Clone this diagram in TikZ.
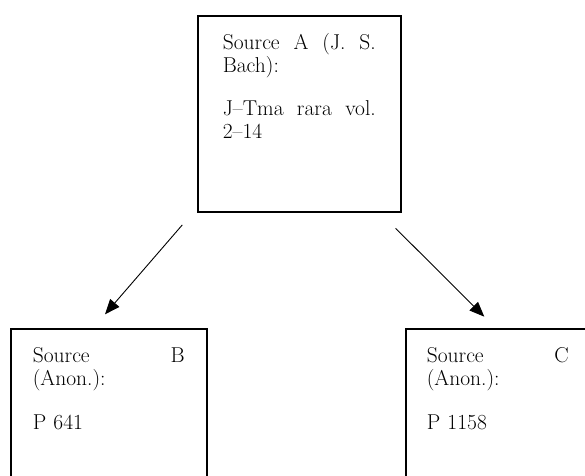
\documentclass[tikz,border=0pt]{standalone}
\usepackage{tikz}
\usetikzlibrary{arrows.meta,positioning,calc}

\begin{document}
\begin{tikzpicture}[
    x=1bp, y=-1bp,
    srcbox/.style={rectangle, draw=black, line width=1.6bp, anchor=north west, align=left, inner ysep=19bp, text height=14.5bp, text depth=143.5bp, font=\fontsize{21.5bp}{23.4bp}\selectfont},
    arrow/.style={-{Triangle[length=15bp,width=12bp]}, line width=0.9bp, black}
]
    \useasboundingbox (0,0) rectangle (585,476);
    \clip (0,0) rectangle (585,476);

    % Quelle oben
    \node[srcbox, text width=153bp, inner xsep=25bp] (srcA) at (197,15) {Source\hfill A\hfill (J.\hfill S.\\Bach):\\[19.2bp]J--Tma\hfill rara\hfill vol.\\2--14};

    % Abschriften unten
    \node[srcbox, text width=152bp, inner xsep=22bp] (srcB) at (10,328) {Source\hfill B\\(Anon.):\\[20.2bp]P 641};
    \node[srcbox, text width=142bp, inner xsep=21bp] (srcC) at (405,328) {Source\hfill C\\(Anon.):\\[20.2bp]P 1158};

    \coordinate (ab) at ([xshift=-14.7bp, yshift=-12.3bp]srcA.south west);
    \coordinate (ba) at ([xshift=95bp, yshift=13.7bp]srcB.north west);
    \coordinate (ac) at ([xshift=-6bp, yshift=-15.7bp]srcA.south east);
    \coordinate (ca) at ([xshift=79.3bp, yshift=11.3bp]srcC.north west);

    \draw[arrow] (ab) -- (ba);
    \draw[arrow] (ac) -- (ca);
\end{tikzpicture}
\end{document}
